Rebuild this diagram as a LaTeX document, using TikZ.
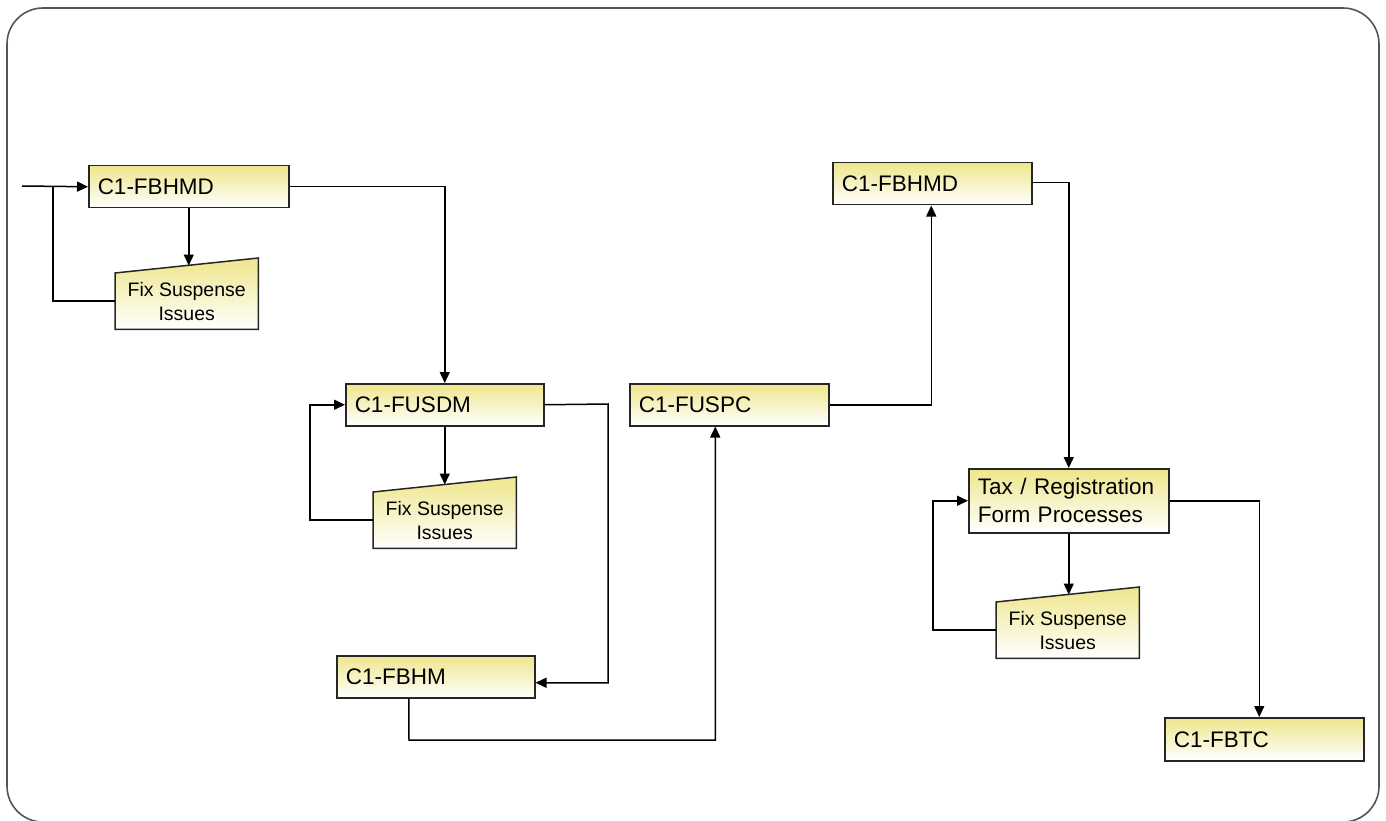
\documentclass[tikz,border=0pt]{standalone}
\usepackage{fontspec}
\setmainfont{Liberation Sans}
\usetikzlibrary{arrows.meta,calc}
\definecolor{boxyellow}{RGB}{238,230,140}
\definecolor{framegray}{RGB}{85,85,85}
\begin{document}
\begin{tikzpicture}[x=1pt,y=-1pt,
  stepbox/.style={draw=black!85, line width=1.5pt, top color=boxyellow, bottom color=white,
    anchor=north west, inner xsep=9pt, inner ysep=0pt, align=left,
    font=\fontsize{22.5}{28}\selectfont, minimum height=42pt},
  fixbox/.style={anchor=north west, inner sep=0pt, minimum width=143pt, minimum height=56pt,
    align=center, font=\fontsize{19.5}{24}\selectfont},
  fixshape/.style={draw=black!85, line width=1.5pt, top color=boxyellow, bottom color=white},
  flow/.style={line width=1.5pt, -{Triangle[length=11pt,width=10pt]}},
  link/.style={line width=1.5pt}]
\useasboundingbox (0,0) rectangle (1386,821);
\clip (0,0) rectangle (1386,821);

% outer frame
\draw[framegray, line width=1.6pt, rounded corners=36pt] (7,8) rectangle (1379,822);

% process steps
\node[stepbox, text width=182pt] (fbhmdA) at (88,165) {C1-FBHMD};
\node[stepbox, text width=180pt] (fusdm) at (345,383) {C1-FUSDM};
\node[stepbox, text width=180pt] (fbhm) at (336,655) {C1-FBHM};
\node[stepbox, text width=181pt] (fuspc) at (629,383) {C1-FUSPC};
\node[stepbox, text width=181pt] (fbhmdB) at (832,162) {C1-FBHMD};
\node[stepbox, text width=182pt, minimum height=64pt] (tax) at (968,468) {Tax / Registration\\Form Processes};
\node[stepbox, text width=181pt, minimum height=43pt] (fbtc) at (1164,717) {C1-FBTC};

% manual-input shaped "fix" steps (top edge rises to the right)
\newcommand{\fixstep}[3]{%
  \node[fixbox] (#1) at (#2,#3) {};
  \draw[fixshape] (#1.south west) -- (#1.south east) -- ([yshift=15pt]#1.north east)
    -- (#1.north west) -- cycle;
  \coordinate (#1-top) at ($(#1.north west)!0.5!([yshift=15pt]#1.north east)$);
  \node[fixbox] at (#2,#3) {Fix Suspense\\Issues};}
\fixstep{fixA}{115}{273}
\fixstep{fixB}{373}{492}
\fixstep{fixC}{996}{602}

% entry and first loop
\coordinate (start) at (22,186);
\coordinate (joinA) at (53,186);
\draw[flow] (start) -- (fbhmdA.west);
\draw[link] (fixA.west) -| (joinA);
\draw[flow] (fbhmdA.south) -- (fbhmdA.south |- fixA-top);

% to C1-FUSDM
\draw[flow] (fbhmdA.east) -| (fusdm.north);
\draw[flow] (fusdm.south) -- (fusdm.south |- fixB-top);
\draw[flow] (fixB.west) -| ([xshift=-35pt]fusdm.west) -- (fusdm.west);

% to C1-FBHM
\coordinate (downB) at (608,404);
\draw[flow] (fusdm.east) -- (downB) |- ([yshift=-6pt]fbhm.east);

% to C1-FUSPC
\coordinate (botC) at (409,740);
\draw[flow] ([xshift=-27pt]fbhm.south) -- (botC) -| ([xshift=-14pt]fuspc.south);

% to second C1-FBHMD
\draw[flow] (fuspc.east) -| ([xshift=-1pt]fbhmdB.south);

% to tax / registration
\draw[flow] ([yshift=1pt]fbhmdB.east) -| (tax.north);
\draw[flow] (tax.south) -- (tax.south |- fixC-top);
\draw[flow] (fixC.west) -| ([xshift=-35pt]tax.west) -- (tax.west);

% to C1-FBTC
\draw[flow] (tax.east) -| ([xshift=-5pt]fbtc.north);
\end{tikzpicture}
\end{document}
